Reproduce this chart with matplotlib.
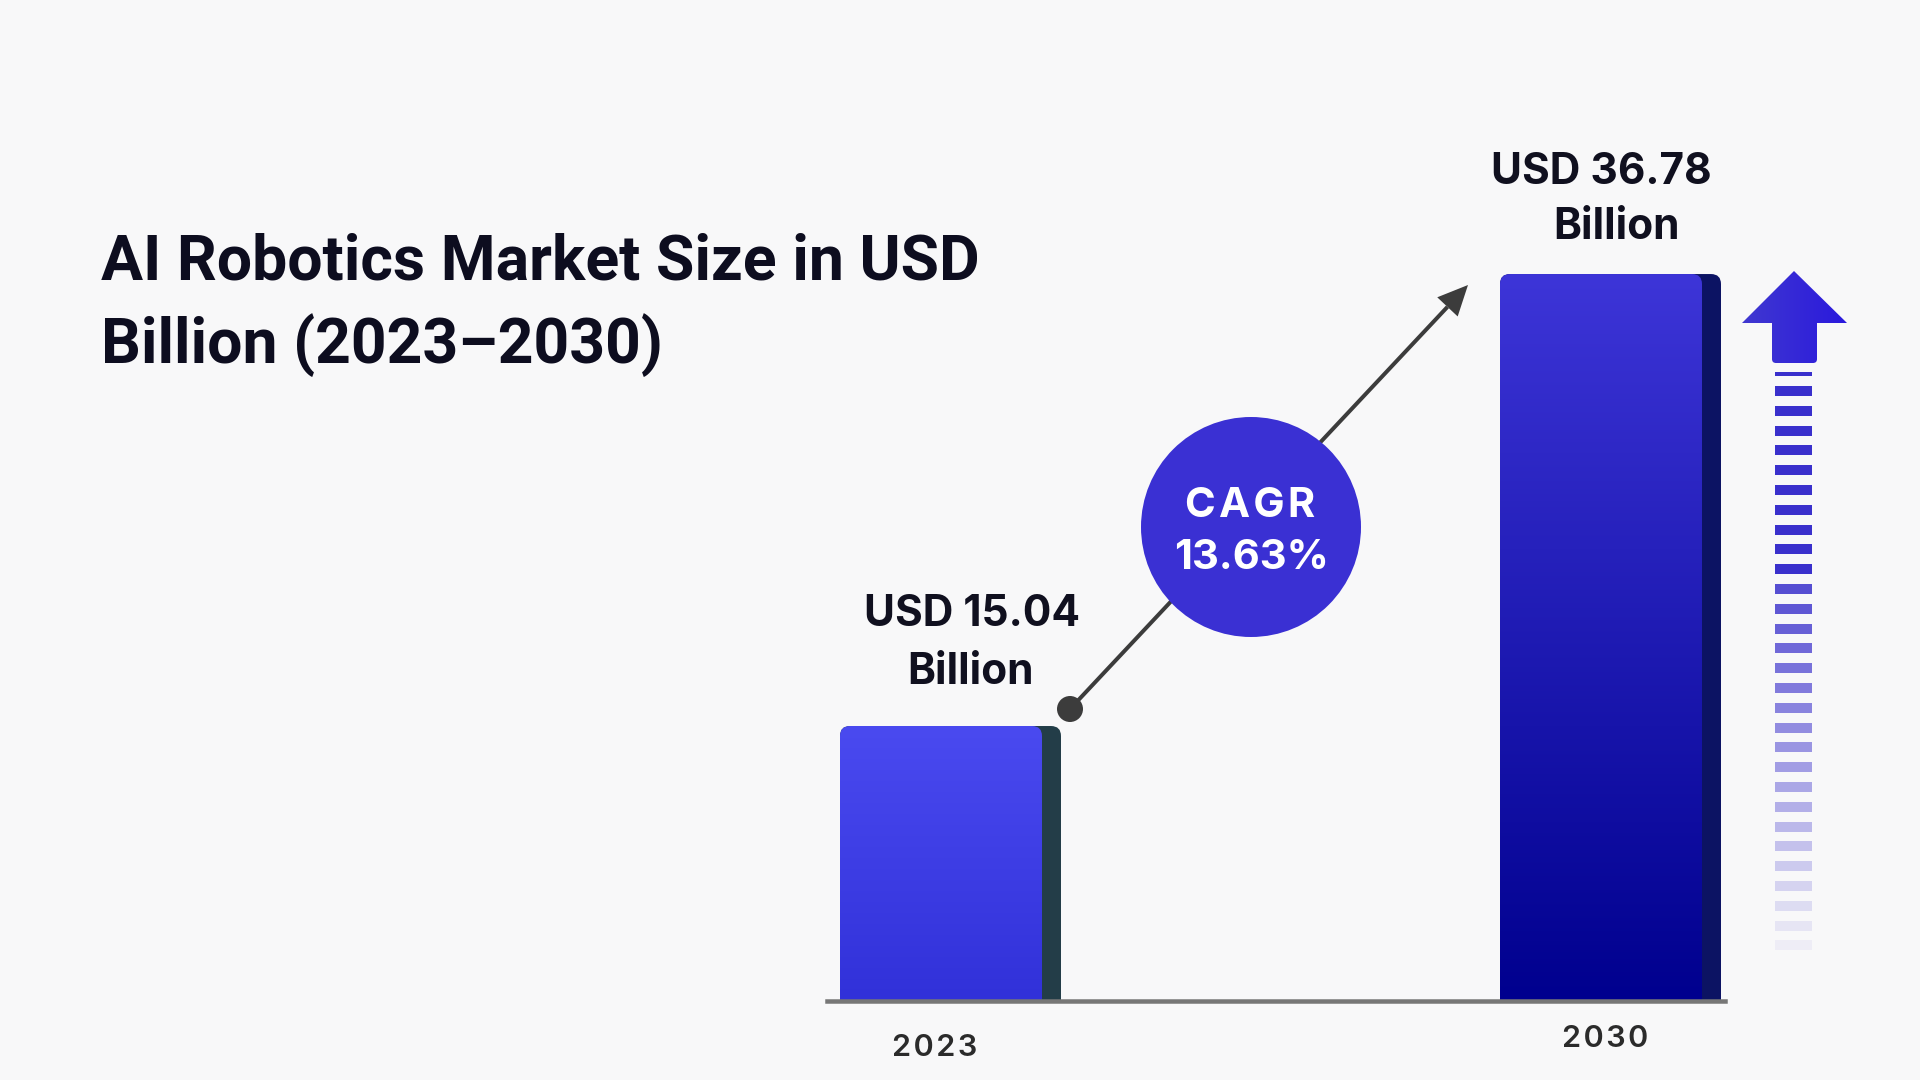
import numpy as np
import matplotlib.pyplot as plt
from matplotlib.patches import FancyBboxPatch, Circle, Polygon, Rectangle, PathPatch
from matplotlib.path import Path
from matplotlib.colors import LinearSegmentedColormap

# chart data
years = ['2023', '2030']
market_size = [15.04, 36.78]
value_labels = ['USD 15.04', 'USD 36.78']
unit_label = 'Billion'
cagr_lines = ['CAGR', '13.63%']
title_lines = ['AI Robotics Market Size in USD', 'Billion (2023\u20132030)']

W, H = 1920, 1080
BG = '#f8f8f9'
plt.rcParams['font.family'] = ['Inter', 'DejaVu Sans']

fig = plt.figure(figsize=(19.2, 10.8), dpi=100, facecolor=BG)

# overlay axes in pixel units for the decorations
ov = fig.add_axes([0, 0, 1, 1])
ov.set_xlim(0, W)
ov.set_ylim(H, 0)
ov.axis('off')

# bar axes (value axis starts a bit above zero, like the original)
base_px, top_px = 1001, 100
left_px, right_px = 827, 1725
px_x = 660.0          # pixels per category step
px_y = 20.79          # pixels per billion
ymin = 1.813
ymax = ymin + (base_px - top_px) / px_y
xlo = (left_px - 941) / px_x
xhi = (right_px - 941) / px_x

ax = fig.add_axes([left_px / W, 1 - base_px / H,
                   (right_px - left_px) / W, (base_px - top_px) / H])
ax.set_facecolor('none')
ax.axis('off')

bar_w = 202 / px_x
shadow_w = 221 / px_x
rad = 10 / px_x
m_aspect = px_x / px_y

front_cols = [('#3131d9', '#4a4af0'), ('#00008e', '#3d35d8')]
shadow_cols = ['#233d48', '#0c1363']
grad = np.linspace(1, 0, 256).reshape(-1, 1)

for i, v in enumerate(market_size):
    x0 = i - bar_w / 2
    shadow = FancyBboxPatch((x0, 0), shadow_w, v,
                            boxstyle=f'round,pad=0,rounding_size={rad}',
                            mutation_aspect=m_aspect, fc=shadow_cols[i],
                            ec='none', zorder=2)
    ax.add_patch(shadow)
    front = FancyBboxPatch((x0, 0), bar_w, v,
                           boxstyle=f'round,pad=0,rounding_size={rad}',
                           mutation_aspect=m_aspect, fc='none',
                           ec='none', zorder=3)
    ax.add_patch(front)
    cmap = LinearSegmentedColormap.from_list(f'b{i}', front_cols[i])
    im = ax.imshow(grad, cmap=cmap, aspect='auto', origin='upper',
                   extent=[x0, x0 + bar_w, ymin, v], zorder=3)
    im.set_clip_path(front)

# value labels above bars
lab_off = [((31, 100), (30, 42)), ((0, 90), (15, 35))]
for i, v in enumerate(market_size):
    (dx1, dy1), (dx2, dy2) = lab_off[i]
    for txt, dx, dy in [(value_labels[i], dx1, dy1), (unit_label, dx2, dy2)]:
        ax.annotate(txt, xy=(i, v), xytext=(dx * 0.72, dy * 0.72),
                    textcoords='offset points', ha='center', va='baseline',
                    fontsize=30.5, fontweight='bold', color='#10101f',
                    annotation_clip=False)

# year labels under the base line (slightly tracked out)
yr_off = [(-6, -55), (4, -46)]
for i, yr in enumerate(years):
    dx, dy = yr_off[i]
    ax.annotate('\u200a'.join(yr), xy=(i, ymin), xytext=(dx * 0.72, dy * 0.72),
                textcoords='offset points', ha='center', va='baseline',
                fontsize=22, fontweight='semibold', color='#2b2b2b',
                annotation_clip=False)

ax.axhline(ymin, color='#777777', lw=4.5 * 0.72, clip_on=False, zorder=6)
ax.set_xlim(xlo, xhi)
ax.set_ylim(ymin, ymax)

# title
for line, yb in zip(title_lines, [279, 363]):
    ov.text(101, yb, line, fontsize=45, fontweight='bold',
            family=['Roboto', 'DejaVu Sans'],
            color='#0d0d1f', va='baseline', ha='left')

# growth arrow with dot
p0 = np.array([1070, 709])
tip = np.array([1468, 285])
d = (tip - p0) / np.hypot(*(tip - p0))
n = np.array([-d[1], d[0]])
hb = tip - 30 * d
ov.plot([p0[0], hb[0]], [p0[1], hb[1]], color='#3c3c3c', lw=4 * 0.72,
        solid_capstyle='butt', zorder=2)
ov.add_patch(Polygon([tip, hb + 14 * n, hb - 14 * n], closed=True,
                     fc='#3c3c3c', ec='none', zorder=2))
ov.add_patch(Circle(p0, 13, fc='#3c3c3c', ec='none', zorder=3))

# CAGR bubble
ov.add_patch(Circle((1251, 527), 110, fc='#3a30d3', ec='none', zorder=4))
ov.text(1250, 517, '\u200a'.join(cagr_lines[0]), fontsize=30, fontweight='bold',
        color='white', ha='center', va='baseline', zorder=5)
ov.text(1251, 569, cagr_lines[1], fontsize=30, fontweight='bold',
        color='white', ha='center', va='baseline', zorder=5)

# big up arrow on the right
verts = [(1794, 271), (1847, 323), (1817, 323), (1817, 359), (1817, 363),
         (1813, 363), (1776, 363), (1772, 363), (1772, 359), (1772, 323),
         (1742, 323), (1794, 271)]
codes = [Path.MOVETO, Path.LINETO, Path.LINETO, Path.LINETO, Path.CURVE3,
         Path.CURVE3, Path.LINETO, Path.CURVE3, Path.CURVE3, Path.LINETO,
         Path.LINETO, Path.CLOSEPOLY]
arrow = PathPatch(Path(verts, codes), fc='none', ec='none')
ov.add_patch(arrow)
acmap = LinearSegmentedColormap.from_list('arr', ['#4038d0', '#2a19dd'])
aim = ov.imshow(np.linspace(0, 1, 256).reshape(1, -1), cmap=acmap,
                aspect='auto', extent=[1742, 1847, 363, 271], zorder=3)
aim.set_clip_path(arrow)

# fading dashes under the arrow
dash_col = '#3a30cc'
ov.add_patch(Rectangle((1775, 372), 37, 4, fc=dash_col, ec='none'))
n_dash = 29
alphas = np.concatenate([np.ones(10), np.linspace(0.85, 0.05, n_dash - 10)])
for k in range(n_dash):
    ov.add_patch(Rectangle((1775, 386 + k * 19.8), 37, 10, fc=dash_col,
                           ec='none', alpha=alphas[k]))

ov.set_xlim(0, W)
ov.set_ylim(H, 0)

fig.savefig('out.png', dpi=100, facecolor=BG)
